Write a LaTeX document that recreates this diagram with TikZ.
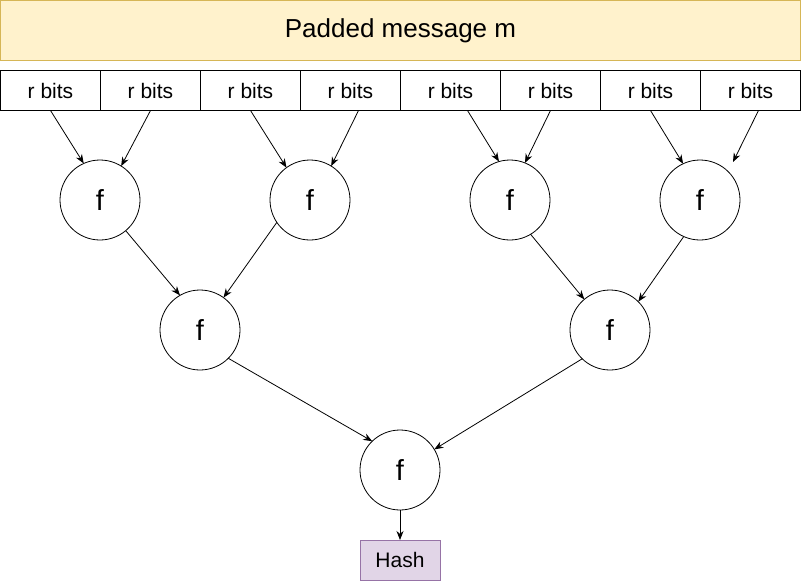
\documentclass[tikz,border=0pt]{standalone}
\usepackage{fontspec}
\setmainfont{Liberation Sans}
\usetikzlibrary{arrows.meta,calc}
\definecolor{barfill}{HTML}{FFF2CC}
\definecolor{barline}{HTML}{D6B656}
\definecolor{hashfill}{HTML}{E1D5E7}
\definecolor{hashline}{HTML}{9673A6}
\tikzset{
  bitbox/.style={draw=black, line width=1pt, minimum width=100pt, minimum height=40pt, inner sep=0pt, outer sep=0pt, font=\fontsize{21}{25}\selectfont},
  fnode/.style={draw=black, circle, line width=0.8pt, minimum size=80pt, inner sep=0pt, outer sep=0pt, font=\fontsize{29}{33}\selectfont},
  link/.style={draw=black, line width=0.8pt, -{Stealth[length=9pt,width=7pt]}},
}
\begin{document}
\begin{tikzpicture}[x=1pt,y=-1pt]
\useasboundingbox (0,0) rectangle (801,581);
\node[draw=barline, fill=barfill, line width=1pt, minimum width=800pt, minimum height=60pt, inner sep=0pt, outer sep=0pt, font=\fontsize{26}{30}\selectfont] (bar) at (400.5,30.5) {Padded message m};
\foreach \i in {1,...,8}{
  \node[bitbox] (b\i) at ({100*\i-49.5},90.5) {r bits};
}
\node[fnode] (c1) at (100,200) {f};
\node[fnode] (c2) at (310,200) {f};
\node[fnode] (c3) at (510,200) {f};
\node[fnode] (c4) at (700,200) {f};
\node[fnode] (d1) at (200,330) {f};
\node[fnode] (d2) at (610,330) {f};
\node[fnode] (e) at (400,470) {f};
\node[draw=hashline, fill=hashfill, line width=1pt, minimum width=80pt, minimum height=40pt, inner sep=0pt, outer sep=0pt, font=\fontsize{21}{25}\selectfont] (h) at (400,560) {Hash};
\coordinate (t8) at (733,162);
\draw[link] (b1.south) -- (c1.114);
\draw[link] (b2.south) -- (c1.58);
\draw[link] (b3.south) -- (c2.126);
\draw[link] ($(b4.south)+(8,0)$) -- (c2.58);
\draw[link] ($(b5.south)+(17,0)$) -- (c3.106);
\draw[link] (b6.south) -- (c3.68);
\draw[link] (b7.south) -- (c4.115);
\draw[link] ($(b8.south)+(8,0)$) -- (t8);
\draw[link] (c1.-50) -- (d1.120);
\draw[link] (c2.-146) -- (d1.54);
\draw[link] (c3.-59.5) -- (d2.130);
\draw[link] (c4.-114) -- (d2.45);
\draw[link] (d1.-45) -- (e.134);
\draw[link] (d2.-134) -- (e.31);
\draw[link] (e.south) -- (h.north);
\end{tikzpicture}
\end{document}
